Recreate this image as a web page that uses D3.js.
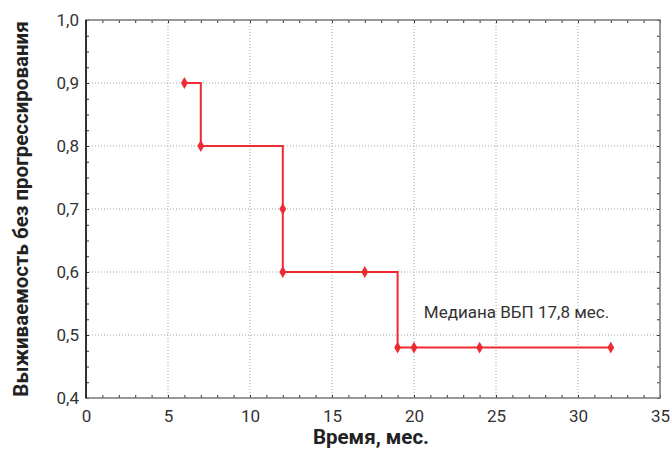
<!DOCTYPE html>
<html>
<head>
<meta charset="utf-8">
<script src="https://d3js.org/d3.v7.min.js"></script>
<style>
  body { margin: 0; background: #fff; }
  .tick text { font-family: Roboto, sans-serif; font-size: 17px; fill: #333; }
  .grid line { stroke: #9aa; stroke-dasharray: 1,2; }
  .title { font-family: Roboto, sans-serif; font-weight: bold; font-size: 20.5px; fill: #222; }
</style>
</head>
<body>
<svg id="chart" width="670" height="450"></svg>
<script>
// данные: время (мес.) и выживаемость
var months   = [6, 7, 12, 12, 17, 19, 20, 24, 32];
var survival = [0.9, 0.8, 0.7, 0.6, 0.6, 0.48, 0.48, 0.48, 0.48];
var xTicks = [0, 5, 10, 15, 20, 25, 30, 35];
var yTicks = [0.4, 0.5, 0.6, 0.7, 0.8, 0.9, 1.0];
var note = "Медиана ВБП 17,8 мес.";

var svg = d3.select("#chart"),
    margin = {top: 20, right: 10, bottom: 52, left: 86},
    width = 670 - margin.left - margin.right,
    height = 450 - margin.top - margin.bottom;

var x = d3.scaleLinear().domain([0, 35]).range([0, width]);
var y = d3.scaleLinear().domain([0.4, 1.0]).range([height, 0]);
var fmt = function(d) { return d3.format(".1f")(d).replace(".", ","); };

var g = svg.append("g").attr("transform", "translate(" + margin.left + "," + margin.top + ")");

// сетка
g.append("g").attr("class", "grid")
  .selectAll("line.v").data(xTicks.slice(1, -1)).enter().append("line")
  .attr("x1", d => x(d)).attr("x2", d => x(d)).attr("y1", 0).attr("y2", height);
g.append("g").attr("class", "grid")
  .selectAll("line.h").data(yTicks.slice(1, -1)).enter().append("line")
  .attr("y1", d => y(d)).attr("y2", d => y(d)).attr("x1", 0).attr("x2", width);

// мелкие засечки
g.append("g").call(d3.axisBottom(x).tickValues(d3.range(0, 36, 1)).tickSize(-3).tickFormat(""))
  .attr("transform", "translate(0," + height + ")")
  .call(a => a.select(".domain").remove()).selectAll("line").attr("stroke", "#333");
g.append("g").call(d3.axisTop(x).tickValues(d3.range(0, 36, 1)).tickSize(-3).tickFormat(""))
  .call(a => a.select(".domain").remove()).selectAll("line").attr("stroke", "#333");
g.append("g").call(d3.axisLeft(y).tickValues(d3.range(0.4, 1.0001, 0.025)).tickSize(-3).tickFormat(""))
  .call(a => a.select(".domain").remove()).selectAll("line").attr("stroke", "#333");
g.append("g").call(d3.axisRight(y).tickValues(d3.range(0.4, 1.0001, 0.025)).tickSize(-3).tickFormat(""))
  .attr("transform", "translate(" + width + ",0)")
  .call(a => a.select(".domain").remove()).selectAll("line").attr("stroke", "#333");

// оси
var xa = g.append("g").attr("transform", "translate(0," + height + ")")
  .call(d3.axisBottom(x).tickValues(xTicks).tickSize(0).tickPadding(12));
xa.select(".domain").remove();
var ya = g.append("g")
  .call(d3.axisLeft(y).tickValues(yTicks).tickSize(0).tickPadding(7).tickFormat(fmt));
ya.select(".domain").remove();

// рамка
g.append("rect").attr("width", width).attr("height", height)
  .attr("fill", "none").attr("stroke", "#777").attr("stroke-width", 1.5);
g.append("line").attr("x1", 0).attr("x2", 0).attr("y1", 0).attr("y2", height)
  .attr("stroke", "#111").attr("stroke-width", 1.5);

// ступенчатая кривая
var pts = months.map((m, i) => [m, survival[i]]);
var line = d3.line().x(d => x(d[0])).y(d => y(d[1])).curve(d3.curveStepAfter);
g.append("path").datum(pts).attr("d", line)
  .attr("fill", "none").attr("stroke", "#ee2a33").attr("stroke-width", 2);
g.selectAll("path.pt").data(pts).enter().append("path")
  .attr("class", "pt")
  .attr("d", d3.symbol().type(d3.symbolDiamond).size(40))
  .attr("transform", d => "translate(" + x(d[0]) + "," + y(d[1]) + ")")
  .attr("fill", "#ee2a33");

// подписи
g.append("text").attr("x", x(20.6)).attr("y", y(0.527))
  .style("font-family", "Roboto, sans-serif").style("font-size", "17px").style("fill", "#333")
  .text(note);
svg.append("text").attr("class", "title").attr("text-anchor", "middle")
  .attr("x", margin.left + width / 2 - 2).attr("y", 444).text("Время, мес.");
svg.append("text").attr("class", "title").attr("text-anchor", "middle")
  .attr("transform", "translate(28," + (margin.top + height / 2) + ") rotate(-90)")
  .text("Выживаемость без прогрессирования");
</script>
</body>
</html>
